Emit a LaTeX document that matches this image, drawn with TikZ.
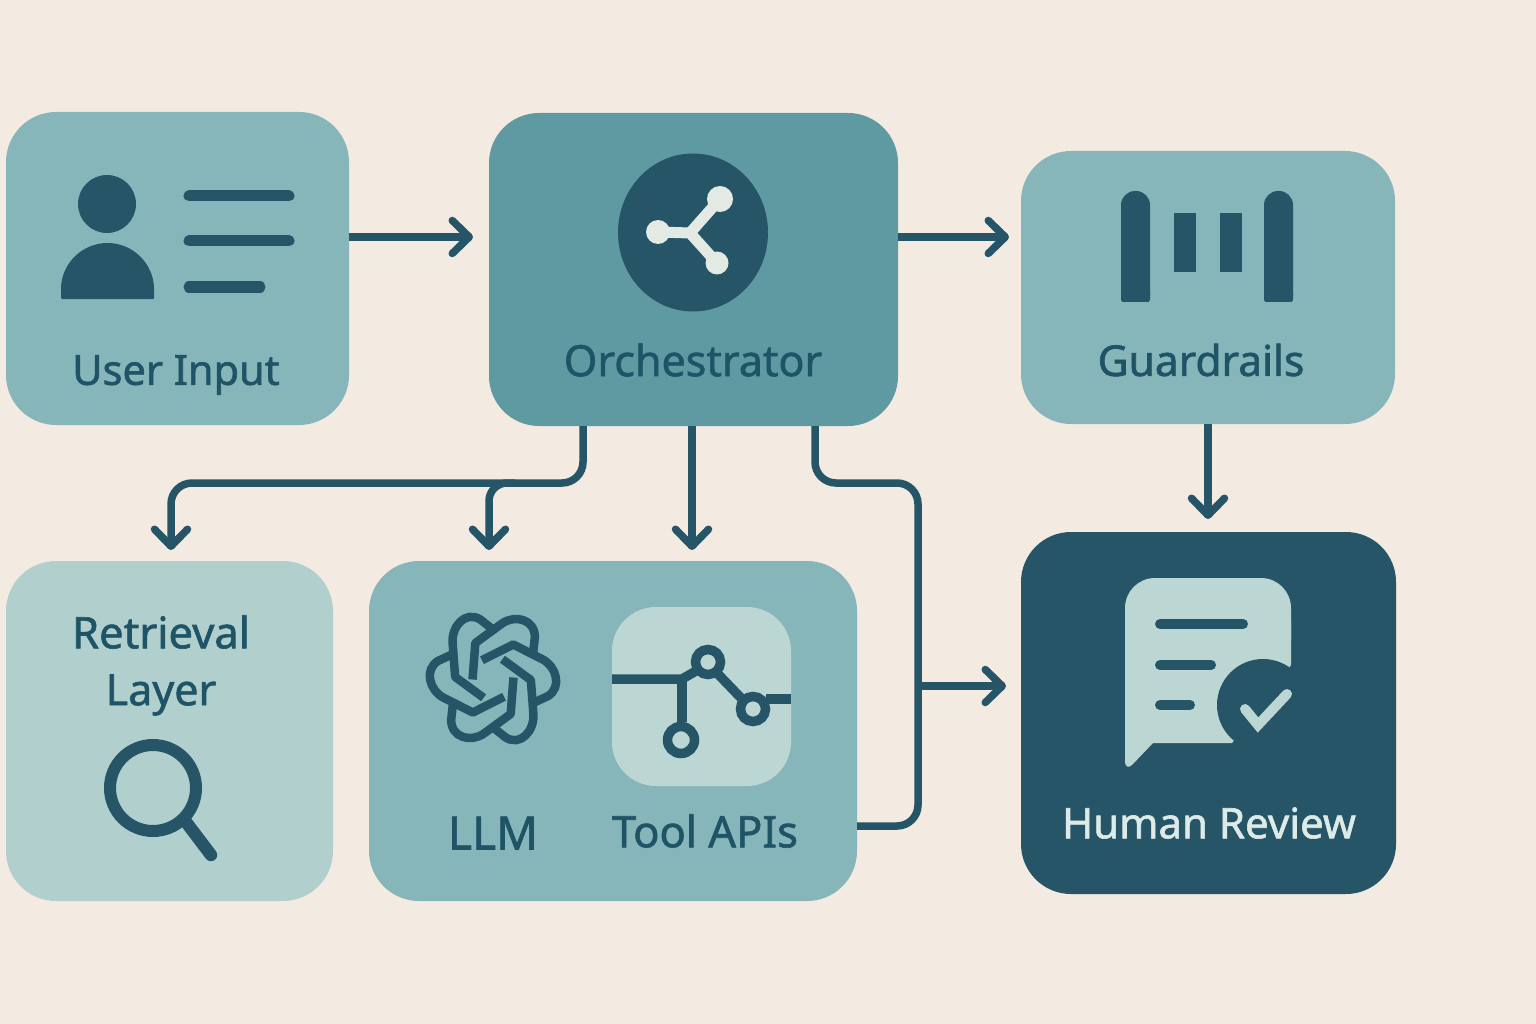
\documentclass[tikz,border=0pt]{standalone}
\usepackage{fontspec}
\setmainfont{Noto Sans}
\newfontfamily\lblfont{Noto Sans}[FakeBold=1.4]
\usetikzlibrary{arrows.meta}
\definecolor{bgc}{HTML}{F3EAE1}
\definecolor{tealmid}{HTML}{87B6BA}
\definecolor{tealorch}{HTML}{5F9AA3}
\definecolor{teallight}{HTML}{B1D0CD}
\definecolor{tealpale}{HTML}{BCD6D4}
\definecolor{tealdark}{HTML}{255567}
\definecolor{inktext}{HTML}{1F5467}
\definecolor{shareic}{HTML}{E3E9E3}
\definecolor{humantext}{HTML}{DDEBE8}
\tikzset{
  x=1pt,y=-1pt,
  panel/.style={rounded corners=#1,inner sep=0pt,outer sep=0pt,draw=none},
  conn/.style={draw=tealdark,line width=7.5pt,rounded corners=21pt},
  tipped/.style={-{Straight Barb[round,length=17pt,width=33pt]}},
  lbl/.style={text=inktext,inner sep=0pt,font=\lblfont\fontsize{#1}{50}\selectfont},
  lbl/.default=43,
  ic/.style={draw=tealdark,line width=9.5pt},
  bar/.style={draw=tealdark,line width=11pt,line cap=round},
  strand/.style={draw=tealdark,line width=8.5pt,line join=round,line cap=butt},
}
\begin{document}
\begin{tikzpicture}
\useasboundingbox (0,0) rectangle (1536,1024);
\fill[bgc] (0,0) rectangle (1536,1024);
% panels
\node[panel=50pt,fill=tealmid,minimum width=343pt,minimum height=313pt] (user) at (177.5,268.5) {};
\node[panel=50pt,fill=tealorch,minimum width=409pt,minimum height=313pt] (orch) at (693.5,269.5) {};
\node[panel=50pt,fill=tealmid,minimum width=374pt,minimum height=273pt] (guard) at (1208,287.5) {};
\node[panel=50pt,fill=teallight,minimum width=327pt,minimum height=340pt] (retr) at (169.5,731) {};
\node[panel=50pt,fill=tealmid,minimum width=488pt,minimum height=340pt] (llm) at (613,731) {};
\node[panel=44pt,fill=tealpale,minimum width=179pt,minimum height=179pt] (tool) at (701.5,696.5) {};
\node[panel=50pt,fill=tealdark,minimum width=375pt,minimum height=362pt] (human) at (1208.5,713) {};
% labels
\node[lbl=41.5] (tuser) at (176,375) {User Input};
\node[lbl=43] (torch) at (693,360) {Orchestrator};
\node[lbl=42.5] (tguard) at (1201,360) {Guardrails};
\node[lbl=43.5] (tretr) at (161,632) {Retrieval};
\node[lbl=43] (tlayer) at (161,695) {Layer};
\node[lbl=46] (tllm) at (493,833) {LLM};
\node[lbl=43.5] (ttool) at (705,831) {Tool APIs};
\node[lbl=42,text=humantext] (thuman) at (1209,823) {Human Review};
% user icon
\fill[tealdark] (107,204) circle[radius=29];
\fill[tealdark,rounded corners=1pt] (61,299) -- (61,290) arc[start angle=180,end angle=360,x radius=46.5,y radius=47] -- (154,299) -- cycle;
\draw[bar] (189,196) -- (289,196);
\draw[bar] (189,241) -- (289,241);
\draw[bar] (189,287) -- (260,287);
% orchestrator icon
\fill[tealdark] (693,232.5) ellipse[x radius=75,y radius=79];
\draw[draw=shareic,line width=11pt,line join=round] (720,199) -- (690,233) -- (658,232) (690,233) -- (717,263);
\fill[shareic] (720,199) circle[radius=13];
\fill[shareic] (658,232) circle[radius=12];
\fill[shareic] (717,263) circle[radius=11.5];
% guardrails icon
\fill[tealdark,rounded corners=14pt] (1121,310) -- (1121,191) -- (1150,191) -- (1150,310) -- cycle;
\fill[tealdark,rounded corners=14pt] (1264,310) -- (1264,191) -- (1293,191) -- (1293,310) -- cycle;
\fill[tealmid] (1115,301.5) rectangle (1300,316);
\fill[tealdark,rounded corners=2pt] (1121,290) rectangle (1150,301.5);
\fill[tealdark,rounded corners=2pt] (1264,290) rectangle (1293,301.5);
\fill[tealdark] (1174,213) rectangle (1196,272);
\fill[tealdark] (1220,213) rectangle (1242,272);
% magnifier
\draw[draw=tealdark,line width=12pt] (153,788) circle[radius=43];
\draw[draw=tealdark,line width=12.5pt,line cap=round] (186,822) -- (211,855);
% LLM knot
\foreach \a in {0,60,...,300}{
  \begin{scope}[shift={(493,678.5)},yscale=1.06,rotate=\a,scale=0.93]
    \draw[strand] (-22,1) -- (-19,-36) -- (10,-56) .. controls (24,-65) and (45,-60) .. (45,-42) -- (43,-25);
  \end{scope}
}
% tool icon
\draw[draw=tealdark,line width=9.5pt] (tool.west |- 0,679) -- (682,679) -- (696,671);
\draw[draw=tealdark,line width=9.5pt] (682,679) -- (682,722);
\draw[draw=tealdark,line width=9.5pt] (717,673) -- (741,698);
\draw[draw=tealdark,line width=9.5pt] (766,699) -- (tool.east |- 0,699);
\draw[ic,fill=tealpale] (708,662) circle[radius=12.5];
\draw[ic,fill=tealpale] (753,709) circle[radius=12.5];
\draw[ic,fill=tealpale] (681,740) circle[radius=13.5];
% review icon
\fill[tealpale,rounded corners=30pt] (1125,640) -- (1125,578) -- (1291,578) -- (1291,640);
\fill[tealpale] (1125,620) -- (1291,620) -- (1291,665) -- (1263,705) -- (1232,743) -- (1153,743) -- (1132,765)
  .. controls (1129,768) and (1125,767) .. (1125,762) -- cycle;
\fill[tealdark] (1263,705) circle[radius=46];
\draw[draw=tealpale,line width=10pt,line cap=round,line join=miter] (1245,709) -- (1258,725) -- (1287,694);
\draw[bar,line width=10pt] (1160,624) -- (1243,624);
\draw[bar,line width=10pt] (1160,665) -- (1211,665);
\draw[bar,line width=10pt] (1160,705) -- (1190,705);
% connectors
\draw[conn,tipped,shorten >=16pt] (user.east |- 0,237) -- (orch.west |- 0,237);
\draw[conn,tipped,shorten >=12pt] (orch.east |- 0,237) -- (guard.west |- 0,237);
\draw[conn,tipped,shorten >=13pt] (guard.south -| 1208,0) -- (human.north -| 1208,0);
\draw[conn,tipped,shorten >=11pt] (692,0 |- orch.south) -- (692,0 |- llm.north);
\draw[conn,tipped,shorten >=11pt] (583,0 |- orch.south) -- (583,483) -- (171,483) -- (171,0 |- retr.north);
\draw[conn,tipped,shorten >=11pt,rounded corners=18pt] (515,483) -- (489,483) -- (489,0 |- llm.north);
\draw[conn] (815,0 |- orch.south) -- (815,483) -- (918,483) -- (918,826) -- (llm.east |- 0,826);
\draw[conn,tipped,shorten >=15pt] (918,686) -- (human.west |- 0,686);
\end{tikzpicture}
\end{document}
